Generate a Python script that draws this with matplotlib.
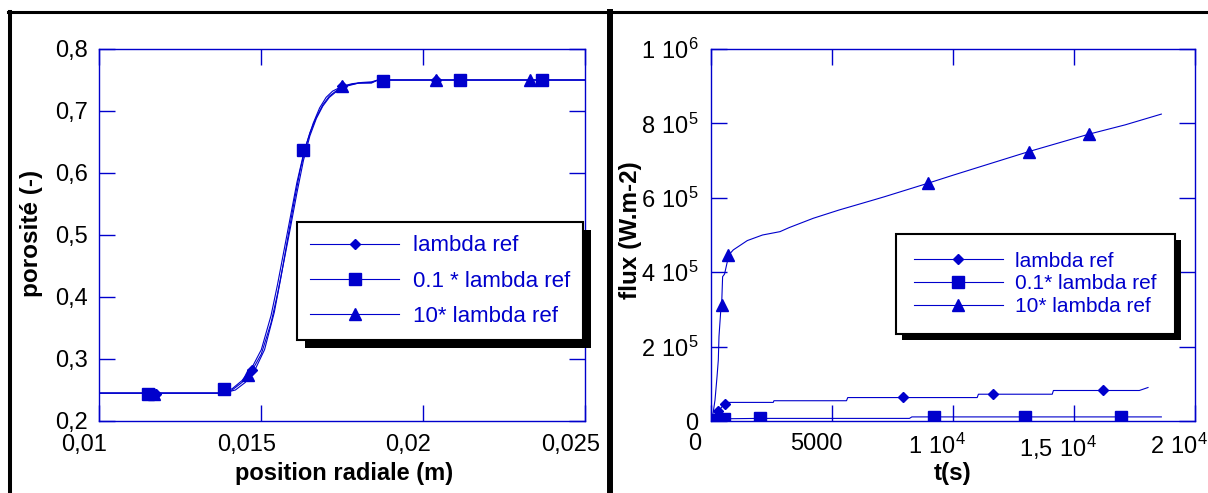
import matplotlib
matplotlib.use("Agg")
import matplotlib.pyplot as plt
import matplotlib.patheffects as pe
import matplotlib.transforms as mtransforms
from matplotlib.lines import Line2D

plt.rcParams['font.family'] = ['Liberation Sans', 'DejaVu Sans']
plt.rcParams['mathtext.default'] = 'regular'

BLUE = '#0000CC'

# ---- gauche : porosite vs position radiale
pos_ref = [0.0100, 0.0137, 0.0138, 0.0141, 0.0144, 0.0147, 0.0150, 0.0153, 0.0155, 0.0157, 0.0159,
           0.0161, 0.0163, 0.0165, 0.0167, 0.0169, 0.0171, 0.0174, 0.0177, 0.0180, 0.0184, 0.0186, 0.0250]
por_ref = [0.245, 0.245, 0.247, 0.252, 0.265, 0.285, 0.315, 0.370, 0.420, 0.475, 0.530,
           0.585, 0.630, 0.665, 0.690, 0.710, 0.724, 0.736, 0.742, 0.745, 0.745, 0.750, 0.750]
pos_01 = [0.0100, 0.0137, 0.0138, 0.0141, 0.0144, 0.0147, 0.0150, 0.0153, 0.0155, 0.0157, 0.0159,
          0.0161, 0.0163, 0.0165, 0.0167, 0.0169, 0.0171, 0.0174, 0.0177, 0.0180, 0.0184, 0.0186, 0.0250]
por_01 = [0.245, 0.245, 0.246, 0.250, 0.262, 0.280, 0.308, 0.358, 0.405, 0.458, 0.512,
          0.568, 0.620, 0.660, 0.688, 0.708, 0.722, 0.735, 0.741, 0.745, 0.746, 0.750, 0.750]
pos_10 = [0.0100, 0.0138, 0.0139, 0.0142, 0.0145, 0.0148, 0.0151, 0.0154, 0.0156, 0.0158, 0.0160,
          0.0162, 0.0164, 0.0166, 0.0168, 0.0170, 0.0172, 0.0175, 0.0178, 0.0181, 0.0184, 0.0186, 0.0250]
por_10 = [0.245, 0.245, 0.246, 0.250, 0.262, 0.282, 0.315, 0.375, 0.430, 0.490, 0.550,
          0.605, 0.648, 0.680, 0.705, 0.722, 0.732, 0.740, 0.744, 0.746, 0.747, 0.750, 0.750]

mk_pos_ref = [0.01175, 0.0147, 0.0175, 0.0204, 0.0237]
mk_por_ref = [0.244, 0.283, 0.740, 0.750, 0.750]
mk_pos_01 = [0.0115, 0.01385, 0.0163, 0.01877, 0.02114, 0.02367]
mk_por_01 = [0.2435, 0.2516, 0.637, 0.749, 0.750, 0.750]
mk_pos_10 = [0.0117, 0.0146, 0.01748, 0.0204, 0.0233]
mk_por_10 = [0.244, 0.274, 0.740, 0.750, 0.750]

# ---- droite : flux vs temps
t_ref = [0, 100, 302, 450, 579, 620, 2574, 2600, 5600, 5650, 11000, 11050, 14100, 14150, 17700, 18058]
f_ref = [0, 5e3, 2.6e4, 3.8e4, 4.6e4, 5.0e4, 5.0e4, 5.45e4, 5.45e4, 6.3e4, 6.3e4, 7.2e4, 7.2e4, 8.2e4, 8.2e4, 9.0e4]
t_01 = [0, 150, 600, 2000, 8200, 8300, 18609]
f_01 = [0, 5e3, 6e3, 7e3, 7e3, 1.1e4, 1.1e4]
t_10 = [0, 60, 165, 250, 302, 330, 400, 440, 480, 560, 680, 715, 922, 1500, 2129, 2851, 3233, 4228,
        5283, 6707, 7175, 8958, 10014, 11591, 13121, 15612, 17110, 18609]
f_10 = [0, 1.0e4, 5.6e4, 1.2e5, 1.64e5, 2.27e5, 2.94e5, 3.12e5, 3.88e5, 3.95e5, 4.30e5, 4.45e5, 4.60e5,
        4.85e5, 5.00e5, 5.09e5, 5.20e5, 5.45e5, 5.67e5, 5.94e5, 6.03e5, 6.39e5, 6.61e5, 6.93e5,
        7.24e5, 7.71e5, 7.96e5, 8.25e5]

mk_t_ref = [302, 579, 7917, 11670, 16200]
mk_f_ref = [2.6e4, 4.6e4, 6.36e4, 7.26e4, 8.2e4]
mk_t_01 = [120, 552, 2019, 9210, 12963, 16942]
mk_f_01 = [3e3, 5e3, 7e3, 1.1e4, 1.1e4, 1.1e4]
mk_t_10 = [440, 700, 8958, 13121, 15612]
mk_f_10 = [3.12e5, 4.45e5, 6.39e5, 7.24e5, 7.71e5]

labels_left = ['lambda ref', '0.1 * lambda ref', '10* lambda ref']
labels_right = ['lambda ref', '0.1* lambda ref', '10* lambda ref']
markers = ['D', 's', '^']
msizes = [5, 8.5, 8]

xt_left = [0.01, 0.015, 0.02, 0.025]
xt_left_lab = ['0,01', '0,015', '0,02', '0,025']
yt_left = [0.2, 0.3, 0.4, 0.5, 0.6, 0.7, 0.8]
yt_left_lab = ['0,2', '0,3', '0,4', '0,5', '0,6', '0,7', '0,8']
xt_right = [0, 5000, 10000, 15000, 20000]
xt_right_lab = ['0', '5000', r'$1\ 10^{4}$', r'$1{,}5\ 10^{4}$', r'$2\ 10^{4}$']
yt_right = [0, 2e5, 4e5, 6e5, 8e5, 1e6]
yt_right_lab = ['0', r'$2\ 10^{5}$', r'$4\ 10^{5}$', r'$6\ 10^{5}$', r'$8\ 10^{5}$', r'$1\ 10^{6}$']

W, H = 1208, 493
fig = plt.figure(figsize=(W / 100, H / 100), dpi=100)
ax1 = fig.add_axes([99.3 / W, 1 - 421 / H, 486 / W, 372 / H])
ax2 = fig.add_axes([711 / W, 1 - 421 / H, 484 / W, 372 / H])

for x, y in [(pos_ref, por_ref), (pos_01, por_01), (pos_10, por_10)]:
    ax1.plot(x, y, color=BLUE, lw=0.8)
for (x, y), m, s in zip([(mk_pos_ref, mk_por_ref), (mk_pos_01, mk_por_01), (mk_pos_10, mk_por_10)], markers, msizes):
    ax1.plot(x, y, ls='none', marker=m, ms=s, color=BLUE)

for x, y in [(t_ref, f_ref), (t_01, f_01), (t_10, f_10)]:
    ax2.plot(x, y, color=BLUE, lw=0.8)
for (x, y), m, s in zip([(mk_t_ref, mk_f_ref), (mk_t_01, mk_f_01), (mk_t_10, mk_f_10)], markers, msizes):
    ax2.plot(x, y, ls='none', marker=m, ms=s, color=BLUE)

ax1.set_xlim(0.01, 0.025)
ax1.set_ylim(0.2, 0.8)
ax2.set_xlim(0, 20000)
ax2.set_ylim(0, 1e6)

def style(ax, xt, xl, yt, yl, dx, ypad):
    ax.set_xticks(xt)
    ax.set_xticklabels(xl)
    ax.set_yticks(yt)
    ax.set_yticklabels(yl)
    for sp in ax.spines.values():
        sp.set_color(BLUE)
        sp.set_linewidth(1.0)
    ax.tick_params(direction='in', length=11.5, width=1, color=BLUE, top=True, right=True,
                   labelsize=17, labelcolor='black')
    ax.tick_params(axis='x', pad=9)
    ax.tick_params(axis='y', pad=ypad)
    off = mtransforms.ScaledTranslation(dx / 100, 0, fig.dpi_scale_trans)
    for lab in ax.get_xticklabels():
        lab.set_transform(lab.get_transform() + off)

style(ax1, xt_left, xt_left_lab, yt_left, yt_left_lab, -15, 8)
style(ax2, xt_right, xt_right_lab, yt_right, yt_right_lab, -16, 9)

ax1.set_xlabel('position radiale (m)', fontsize=17, fontweight='bold', va='center')
ax1.xaxis.set_label_coords(0.503, -0.142)
ax1.set_ylabel('porosité (-)', fontsize=17.5, fontweight='bold', va='center')
ax1.yaxis.set_label_coords(-0.1405, 0.503)
ax2.set_xlabel('t(s)', fontsize=17.5, fontweight='bold', va='center')
ax2.xaxis.set_label_coords(0.5, -0.142)
ax2.set_ylabel('flux (W.m-2)', fontsize=17.5, fontweight='bold', va='center')
ax2.yaxis.set_label_coords(-0.167, 0.513)

def add_legend(ax, labels, anchor, fs, hl, ls, bp, shadow):
    handles = [Line2D([], [], color=BLUE, lw=0.8, marker=m, ms=s) for m, s in zip(markers, msizes)]
    leg = ax.legend(handles, labels, loc='upper left', bbox_to_anchor=anchor,
                    bbox_transform=fig.transFigure, borderaxespad=0, fontsize=fs,
                    handlelength=hl, handletextpad=0.6, labelspacing=ls, borderpad=bp,
                    fancybox=False, framealpha=1, edgecolor='black', labelcolor=BLUE)
    fr = leg.get_frame()
    fr.set_linewidth(1.5)
    fr.set_path_effects([pe.SimplePatchShadow(offset=(shadow, -shadow), shadow_rgbFace='black', alpha=1.0),
                         pe.Normal()])
    return leg

add_legend(ax1, labels_left, (297 / W, 1 - 222 / H), 16, 4.0, 0.64, 0.6, 6)
add_legend(ax2, labels_right, (896 / W, 1 - 234 / H), 15, 4.28, 0.18, 0.85, 4.3)

# cadre noir autour des deux graphes
fig.add_artist(Line2D([10 / W, 10 / W], [0, 1 - 11.5 / H], color='black', lw=2.9, transform=fig.transFigure))
fig.add_artist(Line2D([8 / W, 1], [1 - 11.5 / H, 1 - 11.5 / H], color='black', lw=2.2, transform=fig.transFigure))
fig.add_artist(Line2D([610 / W, 610 / W], [0, 1 - 11.5 / H], color='black', lw=4.3, transform=fig.transFigure))

fig.savefig('out.png', dpi=100)
